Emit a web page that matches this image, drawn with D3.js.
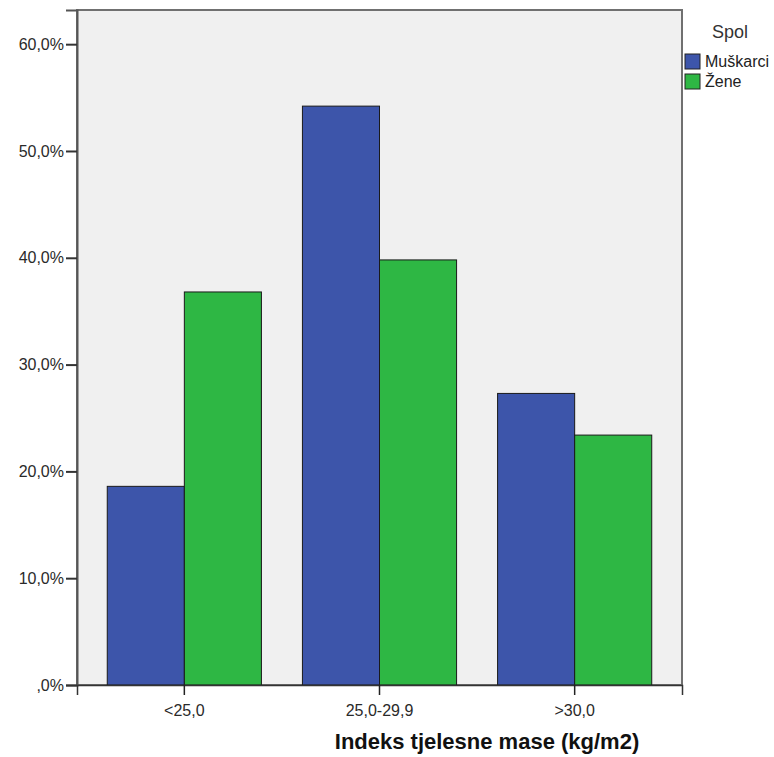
<!DOCTYPE html>
<html>
<head>
<meta charset="utf-8">
<script src="https://cdn.jsdelivr.net/npm/d3@7"></script>
<style>
body { margin: 0; background: #fff; }
text { font-family: Arial, "Liberation Sans", sans-serif; }
</style>
</head>
<body>
<div id="chart"></div>
<script>
// data
const categories = ["<25,0", "25,0-29,9", ">30,0"];
const series = ["Muškarci", "Žene"];
const muskarci = [18.6, 54.2, 27.3];
const zene = [36.8, 39.8, 23.4];
const yTicks = [0, 10, 20, 30, 40, 50, 60];

const colors = { "Muškarci": "#3d55aa", "Žene": "#2eb744" };

const width = 774, height = 757;
const plot = { left: 77, top: 10, right: 682, bottom: 685 };

let svg = d3.select("#chart").append("svg")
    .attr("width", width)
    .attr("height", height);

let x0 = d3.scaleBand()
    .domain(categories)
    .range([plot.left, plot.right])
    .paddingInner(0)
    .paddingOuter(0.05);

let x1 = d3.scaleBand()
    .domain(series)
    .range([0, x0.bandwidth()])
    .paddingInner(0)
    .paddingOuter(0.266);

let y = d3.scaleLinear()
    .domain([0, 63.2])
    .range([plot.bottom, plot.top]);

// plot background
svg.append("rect")
    .attr("x", plot.left)
    .attr("y", plot.top)
    .attr("width", plot.right - plot.left)
    .attr("height", plot.bottom - plot.top)
    .attr("fill", "#f0f0f0")
    .attr("stroke", "#707070")
    .attr("stroke-width", 2);

let rows = [];
categories.forEach((c, i) => {
    rows.push({ cat: c, name: "Muškarci", value: muskarci[i] });
    rows.push({ cat: c, name: "Žene", value: zene[i] });
});

svg.selectAll(".bar")
    .data(rows)
    .enter()
    .append("rect")
    .attr("class", "bar")
    .attr("x", d => x0(d.cat) + x1(d.name))
    .attr("y", d => y(d.value))
    .attr("width", x1.bandwidth())
    .attr("height", d => y(0) - y(d.value))
    .attr("fill", d => colors[d.name])
    .attr("stroke", "#1a1a1a")
    .attr("stroke-width", 1);

// y axis
let yAxis = svg.append("g")
    .attr("transform", `translate(${plot.left},0)`)
    .call(d3.axisLeft(y)
        .tickValues(yTicks)
        .tickSize(11)
        .tickPadding(2)
        .tickFormat(d => (d === 0 ? "" : d) + ",0%"));
yAxis.select(".domain").attr("stroke", "#555").attr("stroke-width", 2);
yAxis.selectAll(".tick line").attr("stroke", "#333").attr("stroke-width", 2);
yAxis.selectAll("text").attr("font-size", 16).attr("fill", "#2a2a2a");

// x axis
let xAxis = svg.append("g")
    .attr("transform", `translate(0,${plot.bottom})`)
    .call(d3.axisBottom(x0).tickSize(10).tickPadding(10));
xAxis.select(".domain").attr("stroke", "#333").attr("stroke-width", 1.5);
xAxis.selectAll(".tick line").attr("stroke", "#222").attr("stroke-width", 1.5);
xAxis.selectAll("text").attr("font-size", 16).attr("fill", "#2a2a2a");

svg.append("text")
    .attr("x", 487)
    .attr("y", 749)
    .attr("text-anchor", "middle")
    .attr("font-size", 22)
    .attr("font-weight", "bold")
    .attr("fill", "#111")
    .text("Indeks tjelesne mase (kg/m2)");

// legend
svg.append("text")
    .attr("x", 730)
    .attr("y", 38)
    .attr("text-anchor", "middle")
    .attr("font-size", 18)
    .attr("fill", "#333")
    .text("Spol");

let legend = svg.selectAll(".legendItem").data(series);
legend.enter()
    .append("rect")
    .attr("class", "legendItem")
    .attr("x", 685)
    .attr("y", (d, i) => 54 + i * 20)
    .attr("width", 15)
    .attr("height", 15)
    .attr("fill", d => colors[d])
    .attr("stroke", "#222")
    .attr("stroke-width", 1);
legend.enter()
    .append("text")
    .attr("x", 705)
    .attr("y", (d, i) => 67 + i * 20)
    .attr("font-size", 16)
    .attr("fill", "#222")
    .text(d => d);
</script>
</body>
</html>
